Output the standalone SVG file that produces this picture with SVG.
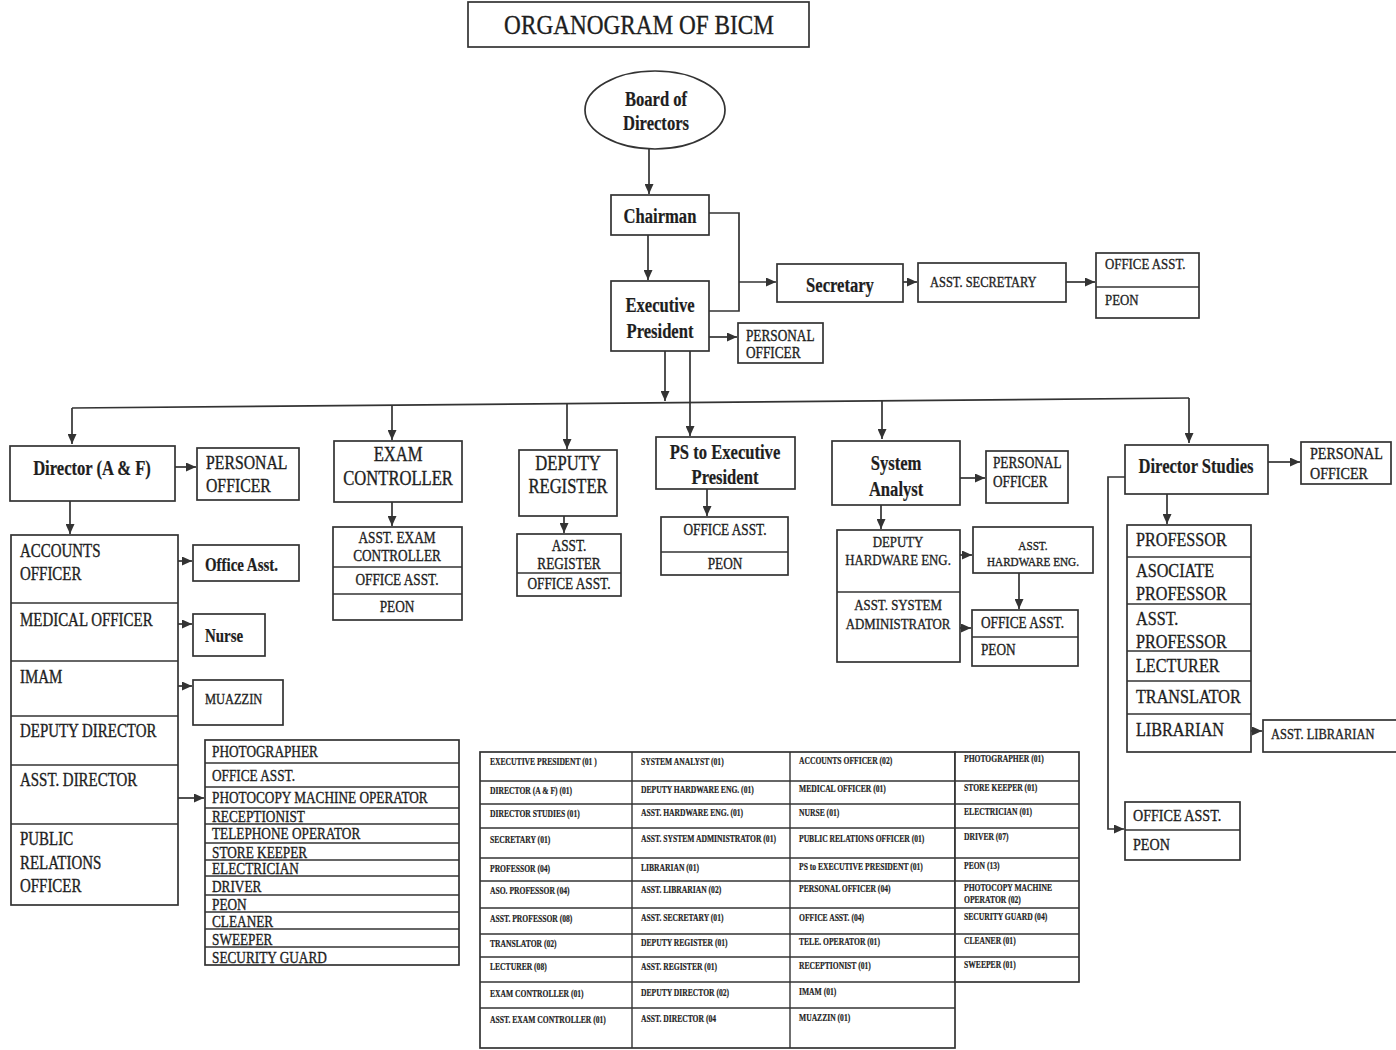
<svg xmlns="http://www.w3.org/2000/svg" width="1396" height="1050" viewBox="0 0 1396 1050">
<style>
.bx{fill:#fff;stroke:#333;stroke-width:1.7}
.dv{stroke:#333;stroke-width:1.4;fill:none}
.ln{fill:none;stroke:#333;stroke-width:1.7}
.ar{marker-end:url(#ah)}
text{font-family:"Liberation Serif","Times New Roman",serif;fill:#1e1e1e;stroke:#1e1e1e;stroke-width:0.35}
.c{text-anchor:middle;transform-box:fill-box;transform-origin:center;transform:scaleX(0.83)}
.l{transform-box:fill-box;transform-origin:left;transform:scaleX(0.83)}
.t{transform-box:fill-box;transform-origin:left;transform:scaleX(0.8);font-size:9.5px;font-weight:bold;stroke-width:0.2}
.b{font-weight:bold;stroke-width:0.2}
</style>
<defs>
<marker id="ah" markerUnits="userSpaceOnUse" markerWidth="10" markerHeight="9" refX="10" refY="4.5" orient="auto">
<path d="M0,0 L10,4.5 L0,9 z" fill="#333"/>
</marker>
</defs>
<rect width="1396" height="1050" fill="#fff"/>

<g id="title">
<rect class="bx" x="468" y="2" width="341" height="45"/>
<text class="c" x="639" y="34" font-size="28">ORGANOGRAM OF BICM</text>
</g>

<g id="connectors">
<line class="ln ar" x1="649" y1="149" x2="649" y2="194"/>
<line class="ln ar" x1="648" y1="235" x2="648" y2="280"/>
<path class="ln" d="M709,213 H739 V311 H709"/>
<line class="ln ar" x1="739" y1="282" x2="776" y2="282"/>
<line class="ln ar" x1="903" y1="282" x2="917" y2="282"/>
<line class="ln ar" x1="1066" y1="282" x2="1095" y2="282"/>
<line class="ln ar" x1="709" y1="337" x2="737" y2="337"/>
<line class="ln ar" x1="665" y1="351" x2="665" y2="401"/>
<line class="ln ar" x1="690" y1="351" x2="690" y2="436"/>
<path class="ln" d="M72,408 L1189,398"/>
<line class="ln ar" x1="72" y1="408" x2="72" y2="444"/>
<line class="ln ar" x1="392" y1="405" x2="392" y2="440"/>
<line class="ln ar" x1="567" y1="404" x2="567" y2="449"/>
<line class="ln ar" x1="882" y1="401" x2="882" y2="439"/>
<line class="ln ar" x1="1189" y1="398" x2="1189" y2="443"/>
<line class="ln ar" x1="175" y1="467" x2="196" y2="467"/>
<line class="ln ar" x1="70" y1="501" x2="70" y2="534"/>
<line class="ln ar" x1="176" y1="561" x2="192" y2="561"/>
<line class="ln ar" x1="176" y1="624" x2="192" y2="624"/>
<line class="ln ar" x1="176" y1="686" x2="192" y2="686"/>
<line class="ln ar" x1="176" y1="798" x2="204" y2="798"/>
<line class="ln ar" x1="392" y1="502" x2="392" y2="526"/>
<line class="ln ar" x1="564" y1="516" x2="564" y2="533"/>
<line class="ln ar" x1="707" y1="489" x2="707" y2="516"/>
<line class="ln ar" x1="960" y1="478" x2="985" y2="478"/>
<line class="ln ar" x1="881" y1="505" x2="881" y2="529"/>
<line class="ln ar" x1="960" y1="555" x2="972" y2="555"/>
<line class="ln ar" x1="1019" y1="573" x2="1019" y2="609"/>
<line class="ln ar" x1="960" y1="628" x2="971" y2="628"/>
<line class="ln ar" x1="1268" y1="462" x2="1300" y2="462"/>
<line class="ln ar" x1="1167" y1="494" x2="1167" y2="524"/>
<line class="ln ar" x1="1251" y1="731" x2="1262" y2="731"/>
<path class="ln ar" d="M1125,477 H1108 V829 H1124"/>
</g>

<g id="board">
<ellipse class="bx" cx="655" cy="110" rx="70" ry="39"/>
<text class="c b" x="656" y="106" font-size="20">Board of<tspan x="656" dy="24">Directors</tspan></text>
</g>
<g id="chairman">
<rect class="bx" x="611" y="195" width="98" height="40"/>
<text class="c b" x="660" y="223" font-size="20">Chairman</text>
</g>
<g id="exec-president">
<rect class="bx" x="611" y="281" width="98" height="70"/>
<text class="c b" x="660" y="312" font-size="20">Executive<tspan x="660" dy="26">President</tspan></text>
</g>
<g id="secretary">
<rect class="bx" x="777" y="264" width="126" height="38"/>
<text class="c b" x="840" y="292" font-size="20">Secretary</text>
</g>
<g id="asst-secretary">
<rect class="bx" x="918" y="263" width="148" height="39"/>
<text class="l" x="930" y="287" font-size="15">ASST. SECRETARY</text>
</g>
<g id="sec-office">
<rect class="bx" x="1096" y="253" width="103" height="65"/>
<line class="dv" x1="1096" y1="287" x2="1199" y2="287"/>
<text class="l" x="1105" y="269" font-size="15.5">OFFICE ASST.</text>
<text class="l" x="1105" y="305" font-size="15.5">PEON</text>
</g>
<g id="ep-personal">
<rect class="bx" x="738" y="323" width="85" height="40"/>
<text class="l" x="746" y="341" font-size="16">PERSONAL<tspan x="746" dy="17">OFFICER</tspan></text>
</g>

<g id="director-af">
<rect class="bx" x="10" y="446" width="165" height="55"/>
<text class="c b" x="92" y="475" font-size="20">Director (A &amp; F)</text>
</g>
<g id="af-personal">
<rect class="bx" x="197" y="448" width="102" height="52"/>
<text class="l" x="206" y="469" font-size="19">PERSONAL<tspan x="206" dy="23">OFFICER</tspan></text>
</g>
<g id="af-units">
<rect class="bx" x="11" y="535" width="167" height="370"/>
<line class="dv" x1="11" y1="603" x2="178" y2="603"/>
<line class="dv" x1="11" y1="661" x2="178" y2="661"/>
<line class="dv" x1="11" y1="716" x2="178" y2="716"/>
<line class="dv" x1="11" y1="765" x2="178" y2="765"/>
<line class="dv" x1="11" y1="824" x2="178" y2="824"/>
<text class="l" x="20" y="557" font-size="18">ACCOUNTS<tspan x="20" dy="23">OFFICER</tspan></text>
<text class="l" x="20" y="626" font-size="18">MEDICAL OFFICER</text>
<text class="l" x="20" y="683" font-size="18">IMAM</text>
<text class="l" x="20" y="737" font-size="18">DEPUTY DIRECTOR</text>
<text class="l" x="20" y="786" font-size="18">ASST. DIRECTOR</text>
<text class="l" x="20" y="845" font-size="18">PUBLIC<tspan x="20" dy="24">RELATIONS</tspan><tspan x="20" dy="23">OFFICER</tspan></text>
</g>
<g id="af-office-asst">
<rect class="bx" x="193" y="545" width="106" height="36"/>
<text class="l b" x="205" y="571" font-size="18">Office Asst.</text>
</g>
<g id="nurse">
<rect class="bx" x="193" y="614" width="72" height="42"/>
<text class="l b" x="205" y="642" font-size="18">Nurse</text>
</g>
<g id="muazzin">
<rect class="bx" x="193" y="680" width="90" height="45"/>
<text class="l" x="205" y="704" font-size="15">MUAZZIN</text>
</g>
<g id="staff-list">
<rect class="bx" x="205" y="740" width="254" height="225"/>
<line class="dv" x1="205" y1="763" x2="459" y2="763"/>
<line class="dv" x1="205" y1="787" x2="459" y2="787"/>
<line class="dv" x1="205" y1="808" x2="459" y2="808"/>
<line class="dv" x1="205" y1="824" x2="459" y2="824"/>
<line class="dv" x1="205" y1="843" x2="459" y2="843"/>
<line class="dv" x1="205" y1="860" x2="459" y2="860"/>
<line class="dv" x1="205" y1="876" x2="459" y2="876"/>
<line class="dv" x1="205" y1="895" x2="459" y2="895"/>
<line class="dv" x1="205" y1="912" x2="459" y2="912"/>
<line class="dv" x1="205" y1="929" x2="459" y2="929"/>
<line class="dv" x1="205" y1="947" x2="459" y2="947"/>
<g font-size="16">
<text class="l" x="212" y="757">PHOTOGRAPHER</text>
<text class="l" x="212" y="781">OFFICE ASST.</text>
<text class="l" x="212" y="803">PHOTOCOPY MACHINE OPERATOR</text>
<text class="l" x="212" y="822">RECEPTIONIST</text>
<text class="l" x="212" y="839">TELEPHONE OPERATOR</text>
<text class="l" x="212" y="858">STORE KEEPER</text>
<text class="l" x="212" y="874">ELECTRICIAN</text>
<text class="l" x="212" y="892">DRIVER</text>
<text class="l" x="212" y="910">PEON</text>
<text class="l" x="212" y="927">CLEANER</text>
<text class="l" x="212" y="945">SWEEPER</text>
<text class="l" x="212" y="963">SECURITY GUARD</text>
</g>
</g>

<g id="exam-controller">
<rect class="bx" x="334" y="441" width="128" height="61"/>
<text class="c" x="398" y="461" font-size="20">EXAM<tspan x="398" dy="24">CONTROLLER</tspan></text>
</g>
<g id="exam-staff">
<rect class="bx" x="333" y="527" width="129" height="93"/>
<line class="dv" x1="333" y1="567" x2="462" y2="567"/>
<line class="dv" x1="333" y1="594" x2="462" y2="594"/>
<text class="c" x="397" y="543" font-size="16">ASST. EXAM<tspan x="397" dy="18">CONTROLLER</tspan></text>
<text class="c" x="397" y="585" font-size="16">OFFICE ASST.</text>
<text class="c" x="397" y="612" font-size="16">PEON</text>
</g>

<g id="deputy-register">
<rect class="bx" x="519" y="450" width="98" height="66"/>
<text class="c" x="568" y="470" font-size="20">DEPUTY<tspan x="568" dy="23">REGISTER</tspan></text>
</g>
<g id="register-staff">
<rect class="bx" x="517" y="534" width="104" height="62"/>
<line class="dv" x1="517" y1="573" x2="621" y2="573"/>
<text class="c" x="569" y="551" font-size="16">ASST.<tspan x="569" dy="18">REGISTER</tspan></text>
<text class="c" x="569" y="589" font-size="16">OFFICE ASST.</text>
</g>

<g id="ps-exec">
<rect class="bx" x="656" y="437" width="139" height="52"/>
<text class="c b" x="725" y="459" font-size="20">PS to Executive<tspan x="725" dy="25">President</tspan></text>
</g>
<g id="ps-staff">
<rect class="bx" x="661" y="517" width="127" height="58"/>
<line class="dv" x1="661" y1="552" x2="788" y2="552"/>
<text class="c" x="725" y="535" font-size="16">OFFICE ASST.</text>
<text class="c" x="725" y="569" font-size="16">PEON</text>
</g>

<g id="system-analyst">
<rect class="bx" x="832" y="441" width="128" height="64"/>
<text class="c b" x="896" y="470" font-size="20">System<tspan x="896" dy="26">Analyst</tspan></text>
</g>
<g id="sa-personal">
<rect class="bx" x="986" y="451" width="82" height="52"/>
<text class="l" x="993" y="468" font-size="16">PERSONAL<tspan x="993" dy="19">OFFICER</tspan></text>
</g>
<g id="sa-staff">
<rect class="bx" x="837" y="530" width="123" height="132"/>
<line class="dv" x1="837" y1="592" x2="960" y2="592"/>
<text class="c" x="898" y="547" font-size="15.5">DEPUTY<tspan x="898" dy="18">HARDWARE ENG.</tspan></text>
<text class="c" x="898" y="610" font-size="15.5">ASST. SYSTEM<tspan x="898" dy="19">ADMINISTRATOR</tspan></text>
</g>
<g id="asst-hardware">
<rect class="bx" x="973" y="527" width="120" height="46"/>
<text class="c" x="1033" y="550" font-size="13.5">ASST.<tspan x="1033" dy="16">HARDWARE ENG.</tspan></text>
</g>
<g id="sa-office">
<rect class="bx" x="972" y="610" width="106" height="56"/>
<line class="dv" x1="972" y1="637" x2="1078" y2="637"/>
<text class="l" x="981" y="628" font-size="16">OFFICE ASST.</text>
<text class="l" x="981" y="655" font-size="16">PEON</text>
</g>

<g id="director-studies">
<rect class="bx" x="1125" y="445" width="143" height="49"/>
<text class="c b" x="1196" y="473" font-size="20">Director Studies</text>
</g>
<g id="ds-personal">
<rect class="bx" x="1301" y="442" width="90" height="42"/>
<text class="l" x="1310" y="459" font-size="17">PERSONAL<tspan x="1310" dy="20">OFFICER</tspan></text>
</g>
<g id="ds-faculty">
<rect class="bx" x="1127" y="525" width="124" height="227"/>
<line class="dv" x1="1127" y1="557" x2="1251" y2="557"/>
<line class="dv" x1="1127" y1="604" x2="1251" y2="604"/>
<line class="dv" x1="1127" y1="651" x2="1251" y2="651"/>
<line class="dv" x1="1127" y1="681" x2="1251" y2="681"/>
<line class="dv" x1="1127" y1="714" x2="1251" y2="714"/>
<g font-size="19.5">
<text class="l" x="1136" y="546">PROFESSOR</text>
<text class="l" x="1136" y="577">ASOCIATE<tspan x="1136" dy="23">PROFESSOR</tspan></text>
<text class="l" x="1136" y="625">ASST.<tspan x="1136" dy="23">PROFESSOR</tspan></text>
<text class="l" x="1136" y="672">LECTURER</text>
<text class="l" x="1136" y="703">TRANSLATOR</text>
<text class="l" x="1136" y="736">LIBRARIAN</text>
</g>
</g>
<g id="asst-librarian">
<rect class="bx" x="1263" y="720" width="140" height="32"/>
<text class="l" x="1271" y="739" font-size="15">ASST. LIBRARIAN</text>
</g>
<g id="ds-office">
<rect class="bx" x="1125" y="802" width="115" height="58"/>
<line class="dv" x1="1125" y1="830" x2="1240" y2="830"/>
<text class="l" x="1133" y="821" font-size="17">OFFICE ASST.</text>
<text class="l" x="1133" y="850" font-size="17">PEON</text>
</g>

<g id="staff-table">
<rect class="bx" x="480" y="752" width="475" height="296"/>
<rect class="bx" x="955" y="752" width="124" height="230"/>
<line class="dv" x1="632" y1="752" x2="632" y2="1048"/>
<line class="dv" x1="790" y1="752" x2="790" y2="1048"/>
<g class="dv">
<line x1="480" y1="781" x2="1079" y2="781"/>
<line x1="480" y1="804" x2="1079" y2="804"/>
<line x1="480" y1="828" x2="1079" y2="828"/>
<line x1="480" y1="858" x2="1079" y2="858"/>
<line x1="480" y1="881" x2="1079" y2="881"/>
<line x1="480" y1="908" x2="1079" y2="908"/>
<line x1="480" y1="934" x2="1079" y2="934"/>
<line x1="480" y1="957" x2="1079" y2="957"/>
<line x1="480" y1="982" x2="955" y2="982"/>
<line x1="480" y1="1008" x2="955" y2="1008"/>
</g>
<text class="t" x="490" y="765">EXECUTIVE PRESIDENT (01 )</text>
<text class="t" x="490" y="794">DIRECTOR (A &amp; F) (01)</text>
<text class="t" x="490" y="817">DIRECTOR STUDIES (01)</text>
<text class="t" x="490" y="843">SECRETARY (01)</text>
<text class="t" x="490" y="872">PROFESSOR (04)</text>
<text class="t" x="490" y="894">ASO.  PROFESSOR (04)</text>
<text class="t" x="490" y="922">ASST. PROFESSOR (08)</text>
<text class="t" x="490" y="947">TRANSLATOR (02)</text>
<text class="t" x="490" y="970">LECTURER (08)</text>
<text class="t" x="490" y="997">EXAM CONTROLLER (01)</text>
<text class="t" x="490" y="1023">ASST. EXAM CONTROLLER (01)</text>

<text class="t" x="641" y="765">SYSTEM ANALYST (01)</text>
<text class="t" x="641" y="793">DEPUTY HARDWARE ENG. (01)</text>
<text class="t" x="641" y="816">ASST. HARDWARE ENG. (01)</text>
<text class="t" x="641" y="842">ASST. SYSTEM ADMINISTRATOR (01)</text>
<text class="t" x="641" y="871">LIBRARIAN (01)</text>
<text class="t" x="641" y="893">ASST. LIBRARIAN (02)</text>
<text class="t" x="641" y="921">ASST. SECRETARY (01)</text>
<text class="t" x="641" y="946">DEPUTY REGISTER (01)</text>
<text class="t" x="641" y="970">ASST. REGISTER (01)</text>
<text class="t" x="641" y="996">DEPUTY DIRECTOR (02)</text>
<text class="t" x="641" y="1022">ASST. DIRECTOR (04</text>

<text class="t" x="799" y="764">ACCOUNTS OFFICER  (02)</text>
<text class="t" x="799" y="792">MEDICAL OFFICER (01)</text>
<text class="t" x="799" y="816">NURSE (01)</text>
<text class="t" x="799" y="842">PUBLIC RELATIONS OFFICER (01)</text>
<text class="t" x="799" y="870">PS to  EXECUTIVE PRESIDENT (01)</text>
<text class="t" x="799" y="892">PERSONAL OFFICER (04)</text>
<text class="t" x="799" y="921">OFFICE ASST. (04)</text>
<text class="t" x="799" y="945">TELE. OPERATOR (01)</text>
<text class="t" x="799" y="969">RECEPTIONIST (01)</text>
<text class="t" x="799" y="995">IMAM (01)</text>
<text class="t" x="799" y="1021">MUAZZIN (01)</text>

<text class="t" x="964" y="762">PHOTOGRAPHER (01)</text>
<text class="t" x="964" y="791">STORE KEEPER (01)</text>
<text class="t" x="964" y="815">ELECTRICIAN (01)</text>
<text class="t" x="964" y="840">DRIVER (07)</text>
<text class="t" x="964" y="869">PEON (13)</text>
<text class="t" x="964" y="891">PHOTOCOPY MACHINE<tspan x="964" dy="12">OPERATOR (02)</tspan></text>
<text class="t" x="964" y="920">SECURITY GUARD (04)</text>
<text class="t" x="964" y="944">CLEANER (01)</text>
<text class="t" x="964" y="968">SWEEPER (01)</text>
</g>
</svg>
